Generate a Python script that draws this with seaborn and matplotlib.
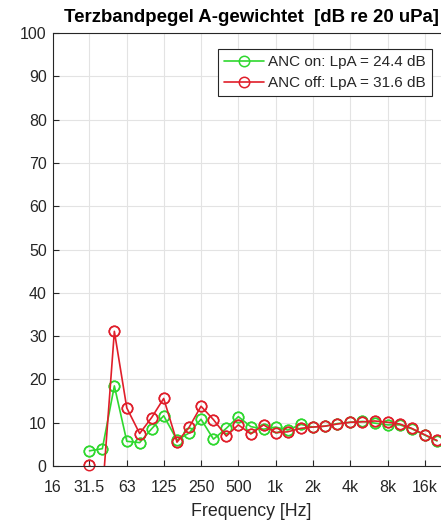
import matplotlib
matplotlib.use("Agg")
import matplotlib.pyplot as plt
import numpy as np
import pandas as pd
import seaborn as sns

# Third-octave band centre frequencies [Hz]
bands = [31.5, 40, 50, 63, 80, 100, 125, 160, 200, 250, 315, 400, 500, 630, 800,
         1000, 1250, 1600, 2000, 2500, 3150, 4000, 5000, 6300, 8000, 10000, 12500,
         16000, 20000]

# A-weighted third-octave band levels [dB re 20 uPa]
anc_on = [3.5, 4.0, 18.5, 5.7, 5.4, 8.6, 11.6, 6.0, 7.6, 10.8, 6.2, 8.7, 11.4, 9.1,
          8.5, 9.0, 8.3, 9.6, 9.0, 9.2, 9.8, 10.1, 10.3, 9.9, 9.5, 9.5, 8.6, 7.1, 5.8]
anc_off = [0.2, -6.6, 31.1, 13.4, 7.5, 11.2, 15.6, 5.5, 8.9, 13.8, 10.7, 6.9, 9.5, 7.4,
           9.5, 7.7, 7.9, 8.7, 9.0, 9.2, 9.7, 10.1, 10.2, 10.4, 10.1, 9.7, 8.7, 7.2, 5.9]

# Overall A-weighted levels
lpa_on = 24.4
lpa_off = 31.6

tick_freqs = [16, 31.5, 63, 125, 250, 500, 1000, 2000, 4000, 8000, 16000]
tick_labels = ["16", "31.5", "63", "125", "250", "500", "1k", "2k", "4k", "8k", "16k"]
y_ticks = list(range(0, 101, 10))

GREEN = "#2fd82f"
RED = "#e01e2a"
INK = "#262626"

sns.set_theme(style="whitegrid")
plt.rcParams["font.family"] = ["Liberation Sans", "DejaVu Sans"]

fig = plt.figure(figsize=(4.41, 5.23), dpi=100)
ax = fig.add_axes([53 / 441, 57 / 523, 396 / 441, 433 / 523])
ax.set_facecolor("white")

series = [
    (anc_on, GREEN, f"ANC on: LpA = {lpa_on} dB"),
    (anc_off, RED, f"ANC off: LpA = {lpa_off} dB"),
]

MS = 7.5
ylo, yhi = 0, 100
for values, color, label in series:
    df = pd.DataFrame({"freq": bands, "level": values})
    sns.lineplot(data=df, x="freq", y="level", ax=ax, color=color, lw=1.2,
                 marker="o", markersize=MS, markerfacecolor="none",
                 markeredgecolor=color, markeredgewidth=1.1,
                 sort=False, estimator=None, label=label)
    # markers sitting on the axis limits are drawn in full
    inside = df[(df["level"] >= ylo) & (df["level"] <= yhi)]
    sns.lineplot(data=inside, x="freq", y="level", ax=ax, color=color, lw=0,
                 marker="o", markersize=MS, markerfacecolor="none",
                 markeredgecolor=color, markeredgewidth=1.1,
                 sort=False, estimator=None, clip_on=False, legend=False)

ax.set_xscale("log")
ax.set_xlim(16, 25000)
ax.set_ylim(ylo, yhi)
ax.set_xticks(tick_freqs)
ax.set_xticklabels(tick_labels)
ax.xaxis.set_minor_locator(matplotlib.ticker.NullLocator())
ax.set_yticks(y_ticks)

ax.grid(True, which="major", color="#e3e3e3", lw=0.8)
ax.tick_params(axis="both", which="major", direction="in", length=4, width=0.8,
               color=INK, labelcolor=INK, labelsize=11.5,
               bottom=True, left=True)
ax.tick_params(axis="x", pad=10)
ax.tick_params(axis="y", pad=4.5)
for side in ["left", "bottom", "top", "right"]:
    ax.spines[side].set_visible(True)
    ax.spines[side].set_color(INK)
    ax.spines[side].set_linewidth(0.8)

ax.set_title("Terzbandpegel A-gewichtet  [dB re 20 uPa]", fontsize=13.4,
             fontweight="bold", color="black", pad=8)
ax.set_xlabel("Frequency [Hz]", fontsize=12.8, color=INK, labelpad=6)
ax.set_ylabel("")

leg = ax.legend(loc="upper right", bbox_to_anchor=(379 / 396, 417 / 433),
                fontsize=11, frameon=True, fancybox=False, framealpha=1,
                edgecolor=INK, handlelength=2.6, borderpad=0.4,
                labelspacing=0.45, handletextpad=0.3, borderaxespad=0)
leg.get_frame().set_linewidth(0.8)

fig.savefig("out.png", dpi=100, facecolor="white")
